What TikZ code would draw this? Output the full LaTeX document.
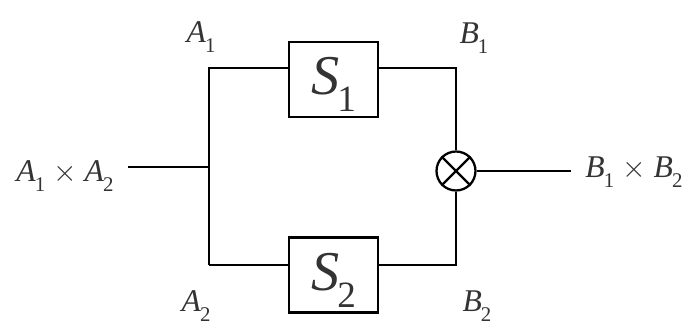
\documentclass[tikz,border=0pt]{standalone}
\usepackage{amsmath,amssymb,amsfonts}
\usepackage{fontspec}
\setmainfont{Liberation Serif}
\usepackage{xcolor}
\usepackage{tikz}
\usetikzlibrary{arrows.meta, positioning, calc}

% italic letter with a lowered, smaller index
\newcommand{\idx}[2]{\textit{#1}\kern-0.03em\raisebox{-0.3em}{\scalebox{0.66}{#2}}}

\begin{document}
\begin{tikzpicture}[
    x=0.02cm, y=-0.02cm,
    sysbox/.style={rectangle, draw=black, line width=1.4pt, minimum width=1.78cm, minimum height=1.5cm, inner sep=0pt, font=\fontsize{32}{36}\selectfont, text=black!80, text height=17.6pt, text depth=0pt},
    mult/.style={circle, draw=black, line width=1.3pt, minimum size=0.78cm, inner sep=0pt},
    lbl/.style={anchor=base, inner sep=0pt, font=\fontsize{18}{21}\selectfont, text=black!80},
    wire/.style={line width=1.1pt, draw=black}
]
    \useasboundingbox (0,0) rectangle (694,324);

    % the two systems and the product
    \node[sysbox] (s1) at (333.5,79.5) {\idx{S}{1}};
    \node[sysbox] (s2) at (333.5,275) {\idx{S}{2}};
    \node[mult] (mul) at (456,171) {};

    \coordinate (in) at (128,167);
    \coordinate (split) at (209,167);
    \coordinate (a1) at (209,68);
    \coordinate (a2) at (209,265);
    \coordinate (b1) at (456,68);
    \coordinate (b2) at (456,265);
    \coordinate (out) at (571,171);

    % labels
    \node[lbl] (la1) at (201,43) {\idx{A}{1}};
    \node[lbl] (la2) at (196,312) {\idx{A}{2}};
    \node[lbl] (lb1) at (474,44) {\idx{B}{1}};
    \node[lbl] (lb2) at (477,312) {\idx{B}{2}};
    \node[lbl] (lin) at (65,182) {\idx{A}{1} $\times$ \idx{A}{2}};
    \node[lbl] (lout) at (634,178) {\idx{B}{1} $\times$ \idx{B}{2}};

    \draw[wire] (in) -- (split);
    \draw[wire] (a2) -- (a1) -- (s1.west |- a1);
    \draw[wire] (a2) -- (s2.west |- a2);
    \draw[wire] (s1.east |- b1) -- (b1) -- (mul);
    \draw[wire] (s2.east |- b2) -- (b2) -- (mul);
    \draw[wire] (mul) -- (out);
    \draw[line width=1.3pt] (mul.north west) -- (mul.south east);
    \draw[line width=1.3pt] (mul.north east) -- (mul.south west);
\end{tikzpicture}
\end{document}
